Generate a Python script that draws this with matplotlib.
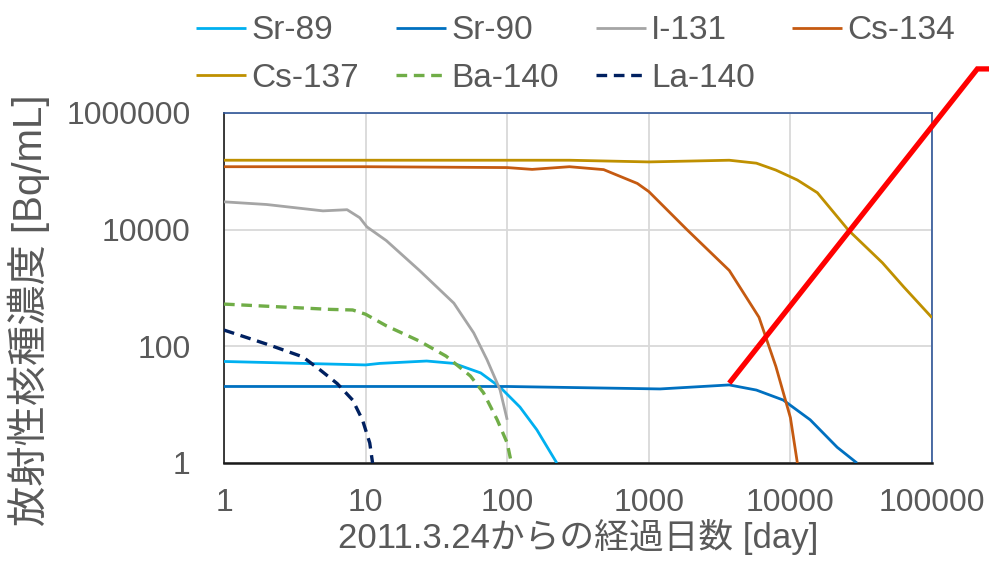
import matplotlib
matplotlib.use("Agg")
import matplotlib.pyplot as plt
from matplotlib.ticker import FixedLocator, FixedFormatter, NullLocator

plt.rcParams['font.family'] = ['Liberation Sans', 'Noto Sans CJK JP', 'DejaVu Sans']

# ---- data ----
sr89_x = [1, 10, 12.6, 27, 42, 65, 89, 123, 162, 224]
sr89_y = [55, 48, 51, 56, 51, 35, 20, 9.1, 3.7, 1]

sr90_x = [1, 100, 1200, 3700, 5750, 8900, 13800, 21400, 29500]
sr90_y = [20.5, 20.5, 18.6, 21.8, 17.8, 12, 5.5, 1.86, 1]

i131_x = [1, 2, 5, 7.4, 9.1, 10.2, 14, 24, 42, 58, 72, 89, 100]
i131_y = [30000, 27000, 21000, 22000, 16000, 11200, 6500, 2000, 550, 170, 59, 18, 5.5]

cs134_x = [1, 10, 100, 150, 275, 480, 830, 1000, 1860, 3700, 6000, 7900, 10000, 11200]
cs134_y = [120000, 120000, 116000, 108000, 120000, 107000, 62000, 45000, 10000, 2000, 315, 45, 6, 1]

cs137_x = [1, 10, 100, 275, 1000, 3700, 5750, 7900, 11200, 15500, 25700, 44700, 63000, 100000]
cs137_y = [155000, 155000, 155000, 155000, 145000, 155000, 138000, 105000, 71000, 43000, 9800, 2700, 1050, 310]

ba140_x = [1, 5.6, 8.1, 10, 14, 24, 37, 55, 68, 85, 100, 107]
ba140_y = [530, 430, 420, 355, 225, 123, 68, 31, 16, 5.5, 2.2, 1]

la140_x = [1, 2.1, 3.6, 4.8, 6.3, 8.1, 9.5, 10.7, 11.2]
la140_y = [190, 105, 66, 39, 23, 12, 5.5, 2.2, 1]

red_x = [3700, 209000, 290000]
red_y = [23.4, 5.7e6, 5.7e6]

x_ticks = [1, 10, 100, 1000, 10000, 100000]
x_labels = ['1', '10', '100', '1000', '10000', '100000']
y_ticks = [1, 100, 10000, 1000000]
y_labels = ['1', '100', '10000', '1000000']

series = [
    ('Sr-89', sr89_x, sr89_y, '#00B0F0', '-', 2.0),
    ('Sr-90', sr90_x, sr90_y, '#0070C0', '-', 2.0),
    ('I-131', i131_x, i131_y, '#A5A5A5', '-', 2.0),
    ('Cs-134', cs134_x, cs134_y, '#C55A11', '-', 2.0),
    ('Cs-137', cs137_x, cs137_y, '#BF9000', '-', 2.0),
    ('Ba-140', ba140_x, ba140_y, '#70AD47', (0, (3.2, 2.0)), 2.4),
    ('La-140', la140_x, la140_y, '#002060', (0, (3.2, 2.0)), 2.4),
]

TXT = '#595959'

fig = plt.figure(figsize=(9.89, 5.64), dpi=100)
ax = fig.add_axes([224 / 989, 1 - 463 / 564, (932 - 224) / 989, (463 - 113) / 564])

ax.set_xscale('log')
ax.set_yscale('log')
ax.set_xlim(1, 100000)
ax.set_ylim(1, 1000000)

handles = {}
for name, xs, ys, col, ls, lw in series:
    h, = ax.plot(xs, ys, color=col, lw=lw, ls=ls, label=name, zorder=3,
                 solid_capstyle='butt', dash_capstyle='butt')
    handles[name] = h

ax.plot(red_x, red_y, color='#FF0000', lw=3.8, zorder=5, clip_on=False,
        solid_joinstyle='miter', solid_capstyle='butt')

ax.xaxis.set_major_locator(FixedLocator(x_ticks))
ax.xaxis.set_major_formatter(FixedFormatter(x_labels))
ax.xaxis.set_minor_locator(NullLocator())
ax.yaxis.set_major_locator(FixedLocator(y_ticks))
ax.yaxis.set_major_formatter(FixedFormatter(y_labels))
ax.yaxis.set_minor_locator(NullLocator())

ax.grid(True, which='major', color='#D9D9D9', lw=1.3, zorder=0)
ax.set_axisbelow(True)
ax.tick_params(axis='both', length=0, labelsize=23, labelcolor=TXT)
ax.tick_params(axis='x', pad=18)
ax.tick_params(axis='y', pad=24)

for s in ['top', 'right']:
    ax.spines[s].set_color('#2F5597')
    ax.spines[s].set_linewidth(1.2)
ax.spines['bottom'].set_color('#1A1A1A')
ax.spines['bottom'].set_linewidth(1.8)
ax.spines['left'].set_color('#1A1A1A')
ax.spines['left'].set_linewidth(1.2)

ax.set_xlabel('2011.3.24からの経過日数 [day]', fontsize=25, color=TXT, labelpad=1)
ax.set_ylabel('放射性核種濃度 [Bq/mL]', fontsize=29, color=TXT)
ax.yaxis.set_label_coords(-(224 - 50) / 708, 0.437)

# row-major order for a 4-column, 2-row legend
order = ['Sr-89', 'Cs-137', 'Sr-90', 'Ba-140', 'I-131', 'La-140', 'Cs-134']
leg = fig.legend(handles=[handles[n] for n in order], loc='upper left',
                 bbox_to_anchor=(183 / 989, 1 - 2 / 564),
                 ncol=4, frameon=False, fontsize=24, handlelength=1.5, handletextpad=0.15,
                 columnspacing=1.12, labelspacing=0.5, borderaxespad=0)
for t in leg.get_texts():
    t.set_color(TXT)

fig.savefig('out.png', dpi=100)
